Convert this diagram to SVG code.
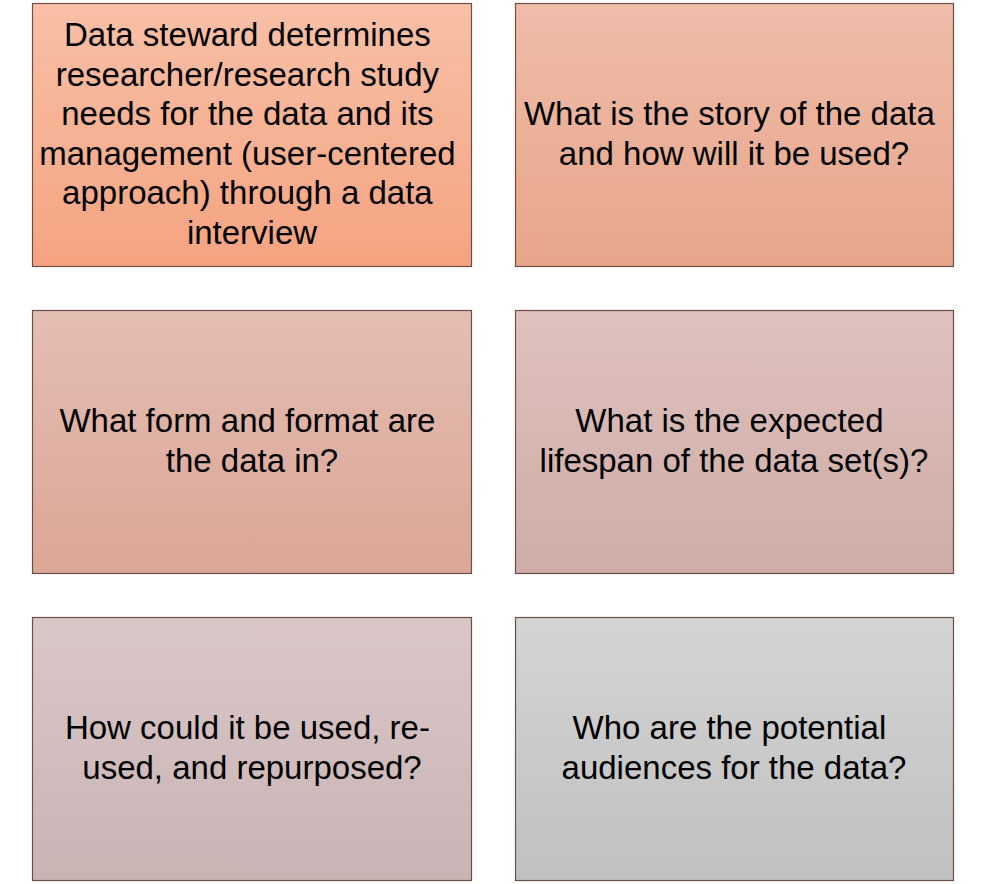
<svg xmlns="http://www.w3.org/2000/svg" width="988" height="884" viewBox="0 0 988 884">
  <defs>
    <linearGradient id="g1" x1="0" y1="0" x2="0" y2="1"><stop offset="0" stop-color="#F8C0A7"/><stop offset="1" stop-color="#F5A381"/></linearGradient>
    <linearGradient id="g2" x1="0" y1="0" x2="0" y2="1"><stop offset="0" stop-color="#EEBCA9"/><stop offset="1" stop-color="#E8A58A"/></linearGradient>
    <linearGradient id="g3" x1="0" y1="0" x2="0" y2="1"><stop offset="0" stop-color="#E4BDB3"/><stop offset="1" stop-color="#DBA696"/></linearGradient>
    <linearGradient id="g4" x1="0" y1="0" x2="0" y2="1"><stop offset="0" stop-color="#DEC1BD"/><stop offset="1" stop-color="#CFACA7"/></linearGradient>
    <linearGradient id="g5" x1="0" y1="0" x2="0" y2="1"><stop offset="0" stop-color="#DAC7C7"/><stop offset="1" stop-color="#C9B4B4"/></linearGradient>
    <linearGradient id="g6" x1="0" y1="0" x2="0" y2="1"><stop offset="0" stop-color="#D4D4D4"/><stop offset="1" stop-color="#C0C0C0"/></linearGradient>
  </defs>
  <style>
    .box { stroke: #6B5048; stroke-width: 1.2; }
    .lbl { font-family: "Liberation Sans", Arial, sans-serif; font-size: 33px; fill: #000; text-anchor: middle; }
  </style>
  <rect width="988" height="884" fill="#FFFFFF"/>
  <g id="connectors"/>
  <g id="node-interview">
    <rect class="box" x="32.5" y="3.5" width="439" height="263" fill="url(#g1)"/>
    <text class="lbl">
      <tspan x="252" y="46">Data steward determines</tspan>
      <tspan x="252" y="86">researcher/research study</tspan>
      <tspan x="252" y="125">needs for the data and its</tspan>
      <tspan x="252" y="165">management (user-centered</tspan>
      <tspan x="252" y="204">approach) through a data</tspan>
      <tspan x="252" y="244">interview</tspan>
    </text>
  </g>
  <g id="node-story">
    <rect class="box" x="515.5" y="3.5" width="438" height="263" fill="url(#g2)"/>
    <text class="lbl">
      <tspan x="734" y="125">What is the story of the data</tspan>
      <tspan x="734" y="165">and how will it be used?</tspan>
    </text>
  </g>
  <g id="node-format">
    <rect class="box" x="32.5" y="310.5" width="439" height="263" fill="url(#g3)"/>
    <text class="lbl">
      <tspan x="252" y="432">What form and format are</tspan>
      <tspan x="252" y="472">the data in?</tspan>
    </text>
  </g>
  <g id="node-lifespan">
    <rect class="box" x="515.5" y="310.5" width="438" height="263" fill="url(#g4)"/>
    <text class="lbl">
      <tspan x="734" y="432">What is the expected</tspan>
      <tspan x="734" y="472">lifespan of the data set(s)?</tspan>
    </text>
  </g>
  <g id="node-reuse">
    <rect class="box" x="32.5" y="617.5" width="439" height="263" fill="url(#g5)"/>
    <text class="lbl">
      <tspan x="252" y="739">How could it be used, re-</tspan>
      <tspan x="252" y="779">used, and repurposed?</tspan>
    </text>
  </g>
  <g id="node-audiences">
    <rect class="box" x="515.5" y="617.5" width="438" height="263" fill="url(#g6)"/>
    <text class="lbl">
      <tspan x="734" y="739">Who are the potential</tspan>
      <tspan x="734" y="779">audiences for the data?</tspan>
    </text>
  </g>
</svg>
